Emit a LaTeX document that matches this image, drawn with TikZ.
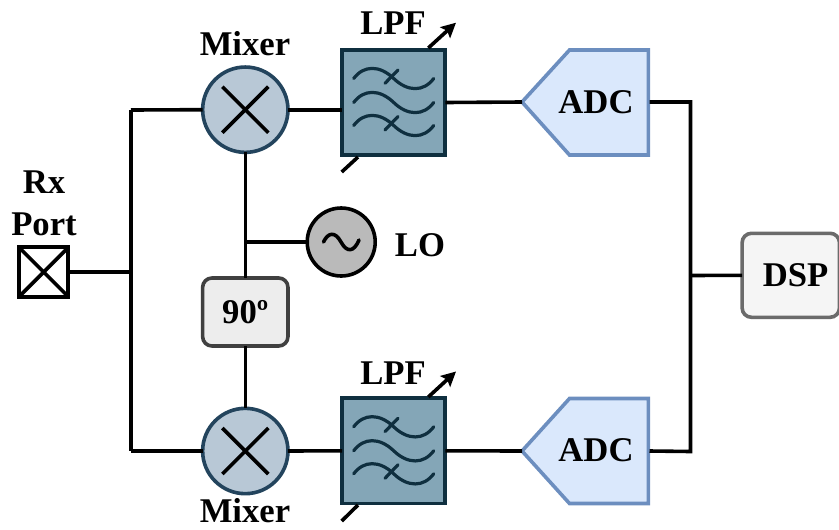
\documentclass[tikz,border=0pt]{standalone}
\usepackage{fontspec}
\setmainfont{Liberation Serif}
\usetikzlibrary{arrows.meta,calc}
\definecolor{mixfill}{HTML}{B8C8D6}
\definecolor{mixline}{HTML}{23445D}
\definecolor{lpffill}{HTML}{84A6B7}
\definecolor{lpfline}{HTML}{0F2F3F}
\definecolor{adcfill}{HTML}{DAE8FC}
\definecolor{adcline}{HTML}{6C8EBF}
\tikzset{
  x=0.75pt,y=-0.75pt,
  wire/.style={line width=2.7pt,black},
  lbl/.style={font=\fontsize{26}{30}\selectfont\bfseries,inner sep=0pt,align=center},
  mixer/.style={circle,draw=mixline,fill=mixfill,line width=2.7pt,minimum size=64pt,inner sep=0pt,outer sep=0pt},
  lpf/.style={rectangle,draw=lpfline,fill=lpffill,line width=2.9pt,minimum width=77.5pt,minimum height=79pt,inner sep=0pt,outer sep=0pt},
  wave/.style={line width=2.4pt,draw=lpfline,line cap=round},
  rbox/.style={rectangle,rounded corners=7pt,line width=2.7pt,inner sep=0pt,outer sep=0pt},
  tune/.style={line width=2.7pt,black},
  tunearrow/.style={tune,-{Stealth[length=11pt,width=11pt,inset=2pt]}},
}
\newcommand{\xmark}[1]{%
  \draw[line width=2.7pt,black] ($(#1)+(-23,-23)$) -- ($(#1)+(23,23)$);
  \draw[line width=2.7pt,black] ($(#1)+(-23,23)$) -- ($(#1)+(23,-23)$);
}
\newcommand{\waveset}[1]{%
  \begin{scope}[shift={(#1)}]
    \foreach \d in {-24,0,23}{
      \draw[wave] (-40,\d) .. controls (-30,\d-13.5) and (-14,\d-13.5) .. (0,\d)
                  .. controls (14,\d+13.5) and (30,\d+13.5) .. (40,\d);
    }
    \draw[wave] (-8.7,-19.2) -- (4.3,-32.5);
    \draw[wave] (-8.7,27.5) -- (4.3,14);
  \end{scope}
}
\begin{document}
\begin{tikzpicture}
\useasboundingbox (0,0) rectangle (839,529);
% nodes
\node[rectangle,draw=black,fill=white,line width=3pt,minimum width=37pt,minimum height=37pt,inner sep=0pt,outer sep=0pt] (port) at (43.7,272) {};
\coordinate (jL) at (131,272);
\coordinate (tL) at (131,110);
\coordinate (bL) at (131,451);
\node[mixer] (m1) at (245.3,109.7) {};
\node[mixer] (m2) at (245.3,451) {};
\node[lpf] (f1) at (393.7,102.5) {};
\node[lpf] (f2) at (393.7,450.8) {};
\node[circle,draw=black,fill=black!27,line width=2.7pt,minimum size=51pt,inner sep=0pt,outer sep=0pt] (lo) at (341.2,242) {};
\node[rbox,draw=black!75,fill=black!7,minimum width=64pt,minimum height=51pt] (ph) at (245.3,312) {\fontsize{26}{30}\selectfont\bfseries 90º};
\coordinate (jLO) at (245.3,242);
\node[rbox,draw=black!58,fill=black!4,minimum width=73pt,minimum height=63pt] (dsp) at (790.8,275.3) {};
\node[lbl] (dsptext) at (795.5,275.5) {DSP};
\path[fill=adcfill,draw=adcline,line width=2.7pt] (522,102) -- (569.5,50) -- (648.3,50) -- (648.3,155) -- (569.5,155) -- cycle;
\path[fill=adcfill,draw=adcline,line width=2.7pt] (522,451) -- (569.5,398.5) -- (648.3,398.5) -- (648.3,503.5) -- (569.5,503.5) -- cycle;
\coordinate (a1w) at (522,102); \coordinate (a1e) at (649.5,102);
\coordinate (a2w) at (522,451); \coordinate (a2e) at (649.5,451);
\coordinate (jR) at (690.5,275.5);
\node[lbl] (adc1) at (596,102) {ADC};
\node[lbl] (adc2) at (596,450) {ADC};
% wires
\draw[wire] (port.east) -- (jL);
\draw[wire] (tL) -- (bL);
\draw[wire] (tL) -- (m1.west);
\draw[wire] (bL) -- (m2.west);
\draw[wire] (m1.east) -- (f1.west |- m1.east);
\draw[wire] (m2.east) -- (f2.west);
\draw[wire] (f1.east) -- (a1w);
\draw[wire] (f2.east) -- (a2w);
\draw[wire] (m1.south) -- (ph.north);
\draw[wire] (ph.south) -- (m2.north);
\draw[wire] (jLO) -- (lo.west);
\draw[wire] (a1e) -- (690.5,102) -- (690.5,451.5) -- (a2e);
\draw[wire] (jR) -- (dsp.west);
% port cross
\draw[line width=2.7pt,shorten >=1pt,shorten <=1pt] (port.north west) -- (port.south east);
\draw[line width=2.7pt,shorten >=1pt,shorten <=1pt] (port.south west) -- (port.north east);
% mixer crosses
\xmark{m1}
\xmark{m2}
% filters
\waveset{f1}
\waveset{f2}
% tuning arrows
\coordinate (t1a) at (428.3,48); \coordinate (t1b) at (456,22.7);
\coordinate (t1c) at (358,157); \coordinate (t1d) at (341.7,172);
\coordinate (t2a) at (428.3,397); \coordinate (t2b) at (456,371.5);
\coordinate (t2c) at (358,505); \coordinate (t2d) at (341.7,521);
\draw[tunearrow] (t1a) -- (t1b);
\draw[tune] (t1c) -- (t1d);
\draw[tunearrow] (t2a) -- (t2b);
\draw[tune] (t2c) -- (t2d);
% LO sine
\draw[line width=2.7pt,line cap=round] (323.5,242) .. controls (328,232.5) and (335,231) .. (341,242) .. controls (347,253) and (354,252) .. (359,240);
% labels
\node[lbl] (tm1) at (245,44) {Mixer};
\node[lbl] (tm2) at (245,511) {Mixer};
\node[lbl] (tf1) at (393,23) {LPF};
\node[lbl] (tf2) at (393,373) {LPF};
\node[lbl] (tlo) at (420,245) {LO};
\node[lbl] (trx) at (44,182) {Rx};
\node[lbl] (tport) at (44,224) {Port};
\end{tikzpicture}
\end{document}
